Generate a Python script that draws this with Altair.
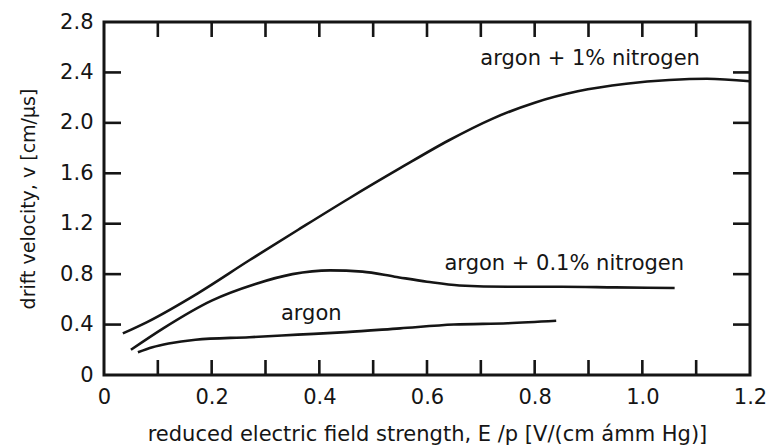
import altair as alt
import pandas as pd

# ---- data ----
n1_x = [0.035, 0.08, 0.175, 0.27, 0.36, 0.455, 0.55, 0.64, 0.72, 0.80, 0.88, 0.97, 1.05, 1.12, 1.2]
n1_y = [0.33, 0.42, 0.65, 0.91, 1.15, 1.40, 1.64, 1.86, 2.03, 2.16, 2.25, 2.31, 2.34, 2.35, 2.33]

n01_x = [0.05, 0.11, 0.2, 0.28, 0.35, 0.42, 0.48, 0.54, 0.6, 0.66, 0.75, 0.85, 0.95, 1.06]
n01_y = [0.20, 0.37, 0.59, 0.72, 0.80, 0.83, 0.82, 0.78, 0.74, 0.71, 0.70, 0.70, 0.695, 0.69]

ar_x = [0.063, 0.09, 0.12, 0.17, 0.27, 0.36, 0.45, 0.55, 0.65, 0.75, 0.84]
ar_y = [0.18, 0.22, 0.25, 0.28, 0.30, 0.32, 0.34, 0.37, 0.40, 0.41, 0.43]

label_text = ["argon + 1% nitrogen", "argon + 0.1% nitrogen", "argon"]
label_x = [0.903, 0.855, 0.385]
label_y = [2.46, 0.83, 0.437]

x_ticks_major = [0, 0.2, 0.4, 0.6, 0.8, 1.0, 1.2]
x_ticks_minor = [0.1, 0.2, 0.3, 0.4, 0.5, 0.6, 0.7, 0.8, 0.9, 1.0, 1.1]
y_ticks = [0, 0.4, 0.8, 1.2, 1.6, 2.0, 2.4, 2.8]
y_ticks_inner = [0.4, 0.8, 1.2, 1.6, 2.0, 2.4]

W, H = 646, 353
FONT = "DejaVu Sans"
INK = "#151515"

rows = []
for name, xs, ys in [("n1", n1_x, n1_y), ("n01", n01_x, n01_y), ("ar", ar_x, ar_y)]:
    for i, (a, b) in enumerate(zip(xs, ys)):
        rows.append({"series": name, "order": i, "E": a, "v": b})
curves = pd.DataFrame(rows)
labels = pd.DataFrame({"text": label_text, "E": label_x, "v": label_y})
xt = pd.DataFrame({"E": x_ticks_minor})
yt = pd.DataFrame({"v": y_ticks_inner})

lbl = "datum.value == 0 ? '0' : format(datum.value, '.1f')"

xscale = alt.Scale(domain=[0, 1.2], nice=False)
yscale = alt.Scale(domain=[0, 2.8], nice=False)

x_axis = alt.Axis(
    values=x_ticks_major, labelExpr=lbl, domain=False, ticks=False, grid=False,
    labelFont=FONT, labelFontSize=21, labelColor=INK, labelPadding=11,
    labelFlush=False, labelOverlap=False,
    title="reduced electric field strength, E /p [V/(cm ámm Hg)]",
    titleFont=FONT, titleFontSize=21, titleFontWeight="normal", titleColor=INK,
    titleX=W / 2, titleY=59, titleBaseline="middle", titleAnchor="middle",
)
y_axis = alt.Axis(
    values=y_ticks, labelExpr=lbl, domain=False, ticks=False, grid=False,
    labelFont=FONT, labelFontSize=21, labelColor=INK, labelPadding=11,
    labelFlush=False, labelOverlap=False,
    title="drift velocity, v [cm/μs]",
    titleFont=FONT, titleFontSize=19, titleFontWeight="normal", titleColor=INK,
    titleX=-76, titleY=H / 2, titleBaseline="middle", titleAngle=-90, titleAnchor="middle",
)

lines = alt.Chart(curves).mark_line(
    color=INK, strokeWidth=2.6, interpolate="monotone"
).encode(
    x=alt.X("E:Q", scale=xscale, axis=x_axis),
    y=alt.Y("v:Q", scale=yscale, axis=y_axis),
    detail="series:N",
    order="order:Q",
)

texts = alt.Chart(labels).mark_text(
    font=FONT, fontSize=21, color=INK, align="center", baseline="alphabetic"
).encode(
    x=alt.X("E:Q", scale=xscale),
    y=alt.Y("v:Q", scale=yscale),
    text="text:N",
)

# inward tick marks on all four sides
bottom_ticks = alt.Chart(xt).mark_rule(color=INK, strokeWidth=2.6).encode(
    x=alt.X("E:Q", scale=xscale), y=alt.value(H - 15), y2=alt.value(H))
top_ticks = alt.Chart(xt).mark_rule(color=INK, strokeWidth=2.6).encode(
    x=alt.X("E:Q", scale=xscale), y=alt.value(0), y2=alt.value(15))
left_ticks = alt.Chart(yt).mark_rule(color=INK, strokeWidth=2.6).encode(
    y=alt.Y("v:Q", scale=yscale), x=alt.value(0), x2=alt.value(17))
right_ticks = alt.Chart(yt).mark_rule(color=INK, strokeWidth=2.6).encode(
    y=alt.Y("v:Q", scale=yscale), x=alt.value(W - 17), x2=alt.value(W))

chart = alt.layer(
    lines, texts, bottom_ticks, top_ticks, left_ticks, right_ticks
).properties(
    width=W, height=H,
    autosize=alt.AutoSizeParams(type="none"),
    padding={"left": 104, "top": 22, "right": 24, "bottom": 73},
    background="white",
).configure_view(
    stroke=INK, strokeWidth=3, fill="white"
)

chart.save("out.html", embed_options={"renderer": "svg", "actions": False})
